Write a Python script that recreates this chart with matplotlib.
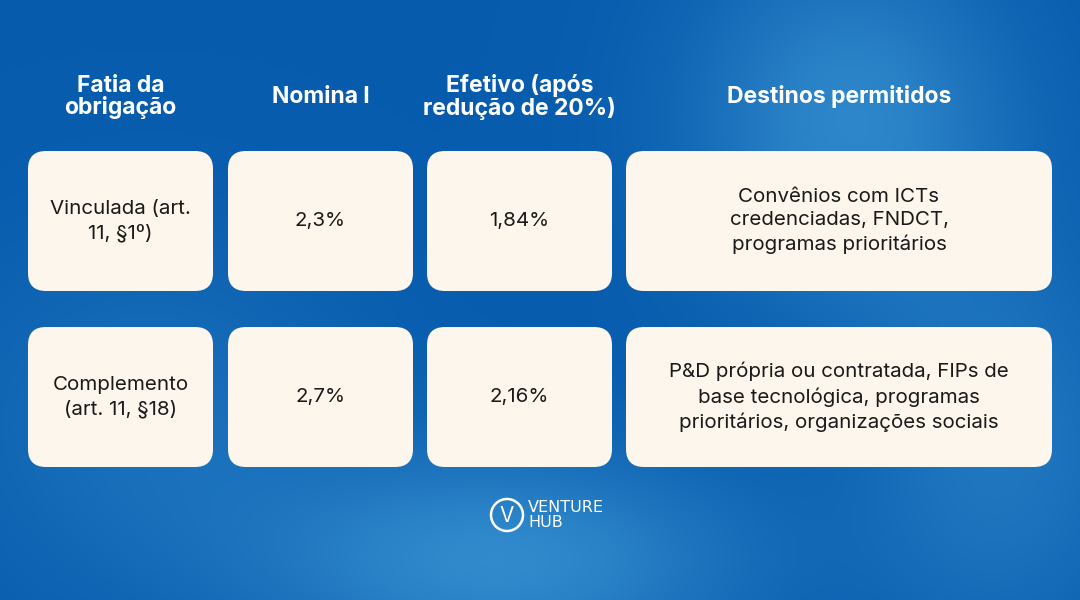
import numpy as np
import matplotlib.pyplot as plt
from matplotlib.patches import FancyBboxPatch, Circle

plt.rcParams['font.family'] = ['Inter', 'DejaVu Sans']

headers = ['Fatia da\nobrigação', 'Nomina l', 'Efetivo (após\nredução de 20%)', 'Destinos permitidos']
slices = ['Vinculada (art.\n11, §1º)', 'Complemento\n(art. 11, §18)']
nominal = ['2,3%', '2,7%']
efetivo = ['1,84%', '2,16%']
destinos = ['Convênios com ICTs\ncredenciadas, FNDCT,\nprogramas prioritários',
            'P&D própria ou contratada, FIPs de\nbase tecnológica, programas\nprioritários, organizações sociais']

col_x = [(28, 213), (228, 413), (427, 612), (626, 1052)]
row_y = [(151, 291), (327, 467)]
card = '#fdf6ec'

fig = plt.figure(figsize=(10.8, 6), dpi=100)
ax = fig.add_axes([0, 0, 1, 1])
ax.set_xlim(0, 1080)
ax.set_ylim(600, 0)
ax.axis('off')

# background gradient
yy, xx = np.mgrid[0:600, 0:1080]
g = 0.55 * np.exp(-((xx - 850) ** 2 / 2.5e4 + (yy - 120) ** 2 / 3e4))
g += 0.6 * np.exp(-((xx - 500) ** 2 / 6e4 + (yy - 560) ** 2 / 1.2e4))
g += 0.35 * np.exp(-((xx - 1000) ** 2 / 2e4 + (yy - 450) ** 2 / 4e4))
g += 0.25 * np.exp(-((xx - 150) ** 2 / 4e4 + (yy - 420) ** 2 / 3e4))
g = np.clip(g, 0, 1)[..., None]
c0 = np.array([0.03, 0.36, 0.68])
c1 = np.array([0.30, 0.66, 0.88])
ax.imshow(c0 + (c1 - c0) * g, extent=(0, 1080, 600, 0), aspect='auto', zorder=0)

for (x0, x1), h in zip(col_x, headers):
    ax.text((x0 + x1) / 2, 97, h, color='white', fontsize=16.5, fontweight='bold',
            ha='center', va='center', linespacing=0.98)

rows = list(zip(slices, nominal, efetivo, destinos))
for (y0, y1), vals in zip(row_y, rows):
    for (x0, x1), v in zip(col_x, vals):
        ax.add_patch(FancyBboxPatch((x0 + 18, y0 + 18), x1 - x0 - 36, y1 - y0 - 36,
                                    boxstyle='round,pad=18', fc=card, ec='none', zorder=2))
        ax.text((x0 + x1) / 2, (y0 + y1) / 2, v, fontsize=14.8, color='#1a1a1a',
                ha='center', va='center', linespacing=1.38, zorder=3)

# logo
ax.add_patch(Circle((507, 515), 16, fc='none', ec='white', lw=1.8, zorder=3))
ax.text(507, 516, 'V', color='white', fontsize=15, ha='center', va='center', zorder=3)
ax.text(528, 515, 'VENTURE\nHUB', color='white', fontsize=11.5,
        family=['Liberation Sans Narrow', 'DejaVu Sans'], ha='left', va='center',
        linespacing=1.0, zorder=3)

fig.savefig('out.png', dpi=100)
